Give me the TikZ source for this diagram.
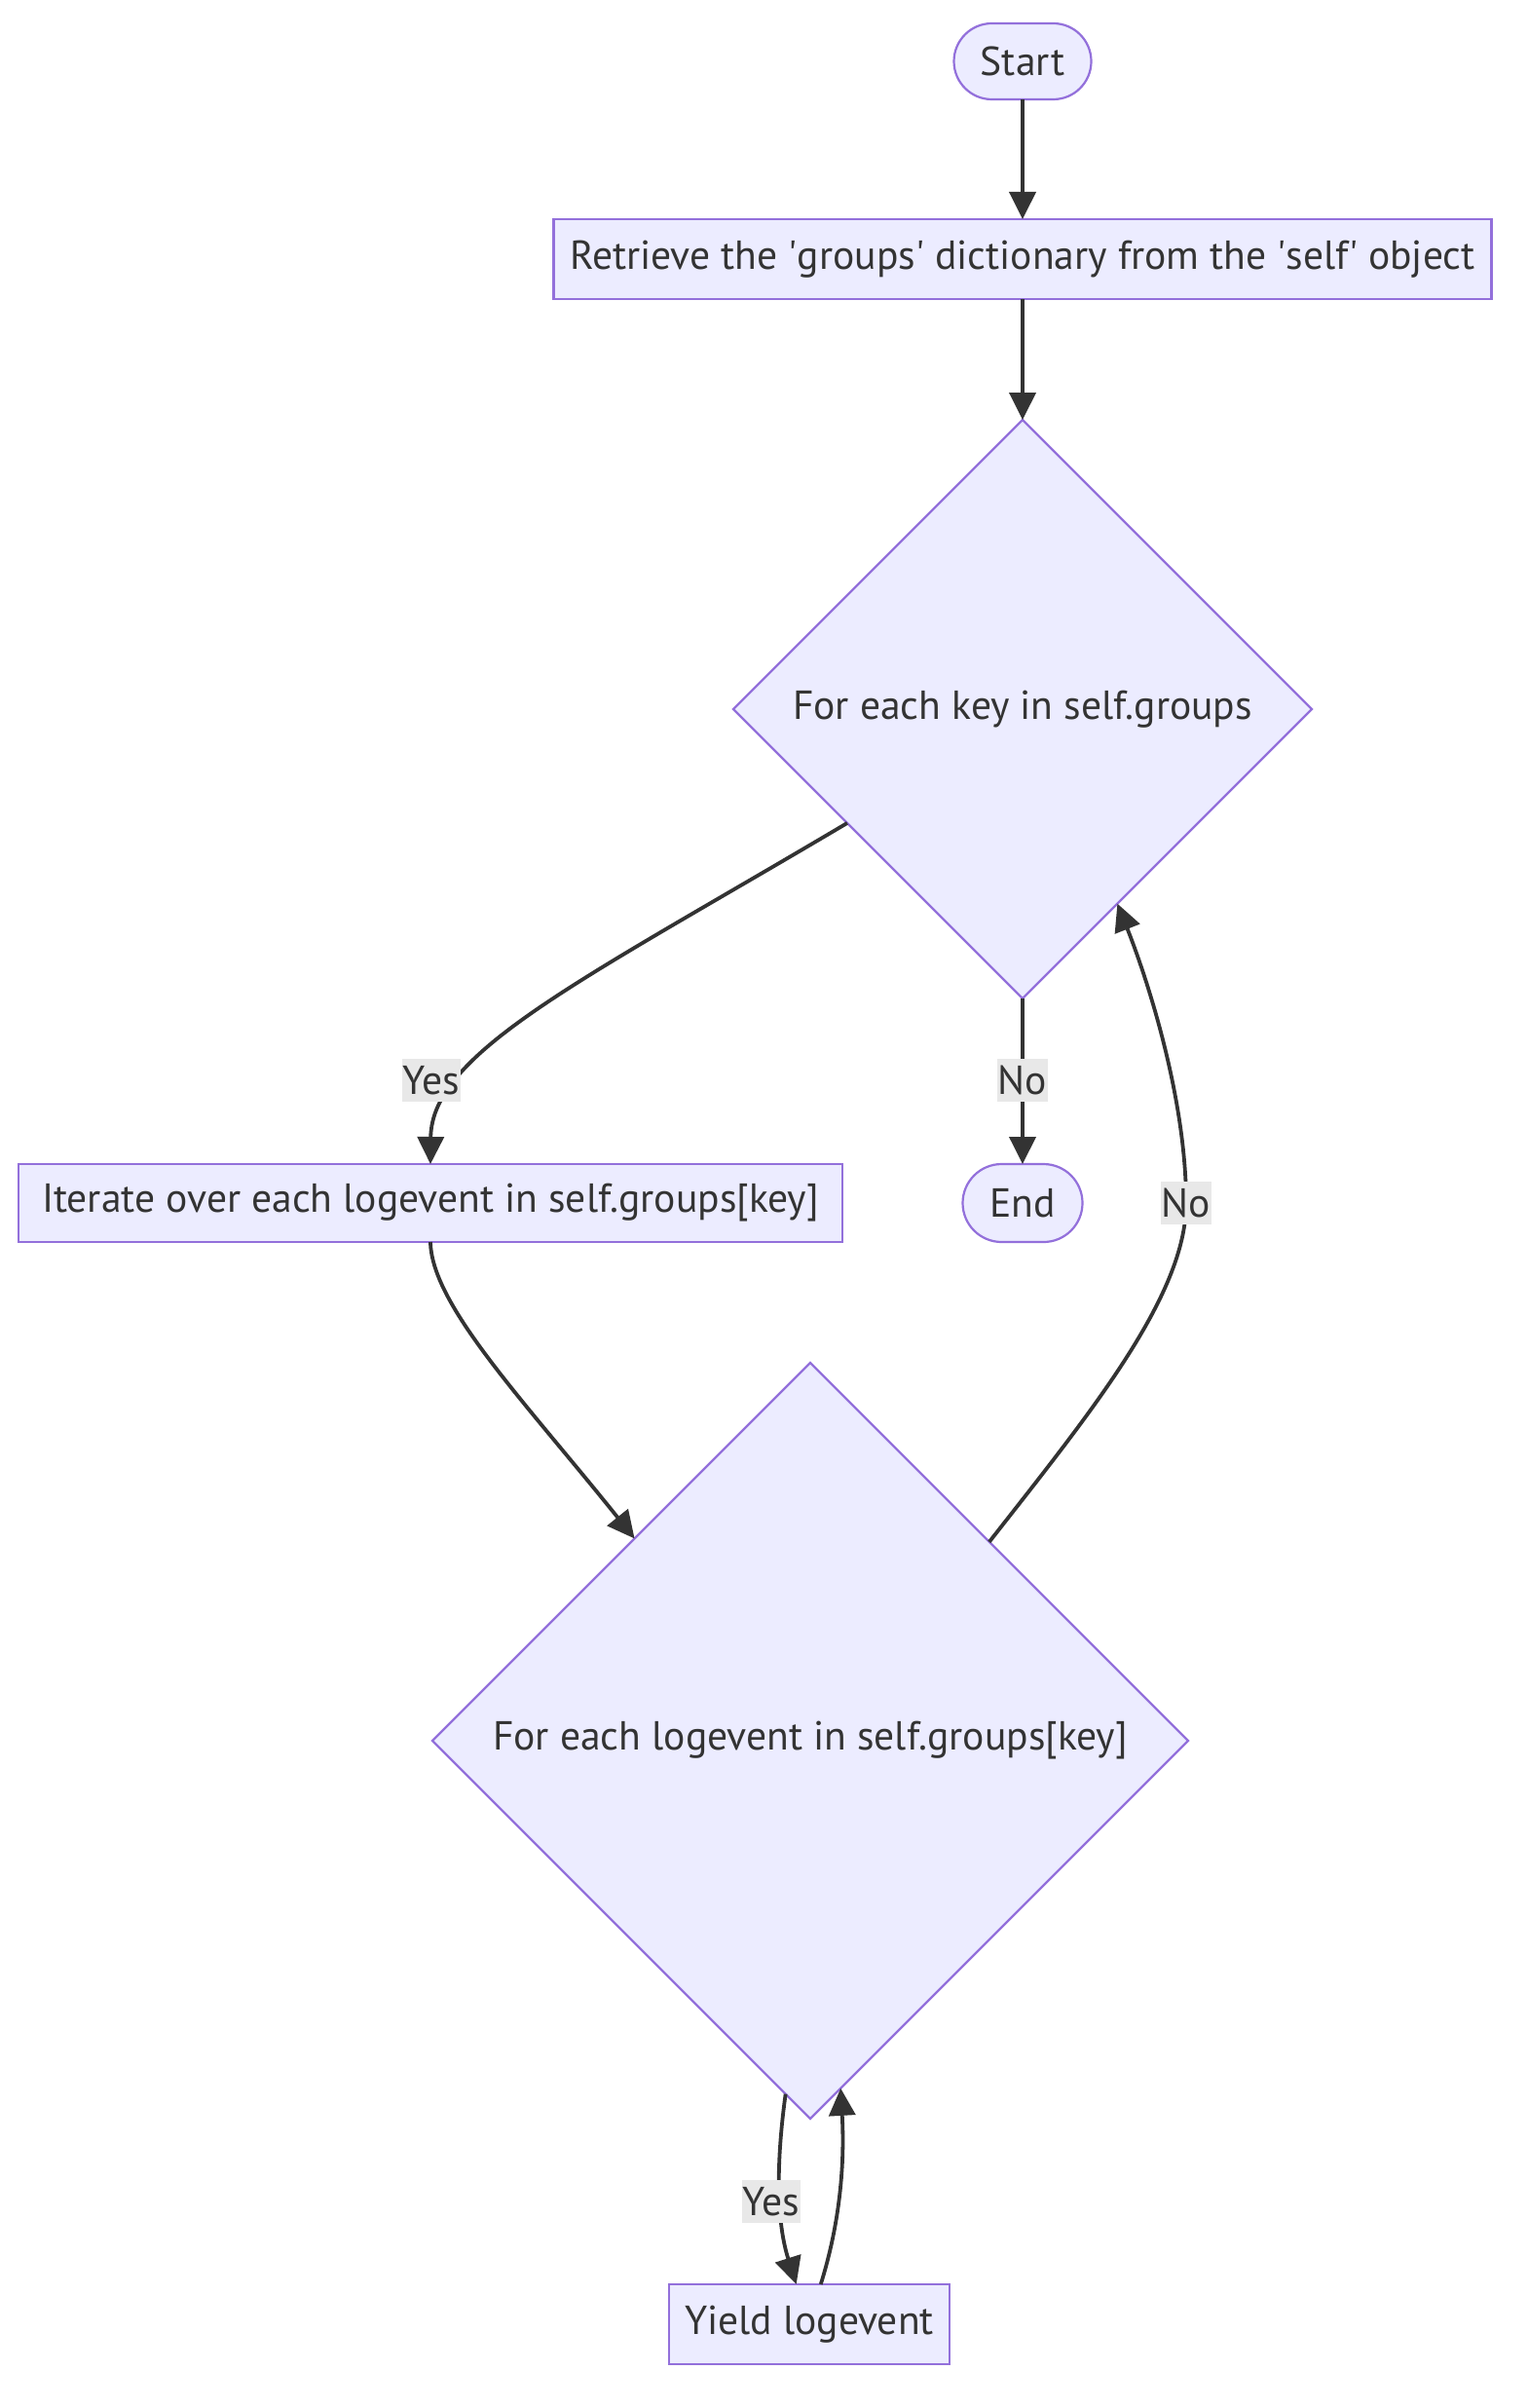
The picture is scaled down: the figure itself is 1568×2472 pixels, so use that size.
\documentclass[tikz,border=0pt]{standalone}
\usepackage{fontspec}
\setmainfont{PT Sans}
\usetikzlibrary{shapes.geometric,arrows.meta}
\definecolor{nodefill}{HTML}{ECECFF}
\definecolor{nodeline}{HTML}{9370DB}
\definecolor{edgecol}{HTML}{333333}
\definecolor{lblfill}{HTML}{E8E8E8}
\definecolor{txtcol}{HTML}{333333}
\begin{document}
\begin{tikzpicture}[x=0.5pt,y=-0.5pt,
  basebox/.style={draw=nodeline,fill=nodefill,line width=1.1pt,text=txtcol,
    font=\fontsize{20.8}{24}\selectfont,inner sep=0pt,outer sep=0pt},
  procbox/.style={basebox,rectangle},
  termbox/.style={basebox,rectangle},
  decbox/.style={basebox,diamond,aspect=1},
  flow/.style={draw=edgecol,line width=1.9pt,-{Triangle[length=14pt,width=13.5pt]}},
  lbl/.style={fill=lblfill,text=txtcol,font=\fontsize{20.8}{24}\selectfont,
    inner xsep=0.5pt,inner ysep=0pt,minimum height=22pt}
]
\useasboundingbox (0,0) rectangle (1568,2472);
\fill[white] (0,0) rectangle (1568,2472);

% nodes
\node[termbox,rounded corners=19.5pt,minimum width=70.5pt,minimum height=39pt] (start) at (1050,63) {Start};
\node[procbox,minimum width=481.5pt,minimum height=41pt] (retrieve) at (1050,266)
  {Retrieve the \textquotesingle groups\textquotesingle{} dictionary from the \textquotesingle self\textquotesingle{} object};
\node[decbox,minimum width=297pt,minimum height=297pt] (d1) at (1050,728) {For each key in self.groups};
\node[procbox,minimum width=423pt,minimum height=40pt] (iterate) at (442,1235) {Iterate over each logevent in self.groups[key]};
\node[termbox,rounded corners=20pt,minimum width=61.5pt,minimum height=40pt] (endnode) at (1050,1235) {End};
\node[decbox,minimum width=388pt,minimum height=388pt] (d2) at (832,1787) {For each logevent in self.groups[key]};
\node[procbox,minimum width=144pt,minimum height=41pt] (yield) at (831,2386) {Yield logevent};

% label anchor points
\coordinate (cyes1) at (443,1109);
\coordinate (cno1) at (1050,1109);
\coordinate (cno2) at (1218,1235);
\coordinate (cyes2) at (792,2260);

% connectors
\draw[flow] (start) -- (retrieve);
\draw[flow] (retrieve) -- (d1);
\draw[flow] (d1.213) .. controls (600,1005) and (443,1080) .. (iterate.north);
\draw[flow] (d1.south) -- (endnode.north);
\draw[flow] (iterate.south) .. controls (443,1340) and (540,1440) .. (d2.131);
\draw[flow] (d2.48) .. controls (1120,1450) and (1218,1330) .. (cno2)
  .. controls (1218,1130) and (1180,1010) .. (d1.296);
\draw[flow] (d2.266) .. controls (797,2220) and (797,2280) .. (yield.108);
\draw[flow] (yield.74) .. controls (860,2290) and (868,2230) .. (d2.275);

% labels
\node[lbl] (lyes1) at (cyes1) {Yes};
\node[lbl] (lno1) at (cno1) {No};
\node[lbl] (lno2) at (cno2) {No};
\node[lbl] (lyes2) at (cyes2) {Yes};
\end{tikzpicture}
\end{document}
